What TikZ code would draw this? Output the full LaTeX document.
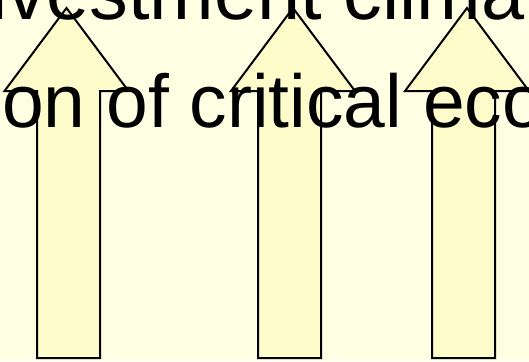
\documentclass[tikz,border=0pt]{standalone}
\usepackage{fontspec}
\setmainfont{Liberation Sans}
\definecolor{bg}{RGB}{255,255,228}
\definecolor{arrowfill}{RGB}{255,252,204}
\begin{document}
\begin{tikzpicture}[x=1bp,y=-1bp,
  arrowfillstyle/.style={fill=arrowfill},
  arrowline/.style={draw=black,line width=2bp,line join=miter},
  bigtext/.style={anchor=base west,inner sep=0pt,text=black}]
\clip (0,0) rectangle (529,361);
\fill[bg] (0,0) rectangle (529,361);
\foreach \L/\R/\c in {37/100/66.5, 258/321/293, 432/495/467} {
  \fill[arrowfillstyle] (\L,358) -- (\L,91) -- (\c-62,91) -- (\c,8) -- (\c+62,91) -- (\R,91) -- (\R,358) -- cycle;
}
\node[bigtext,font=\fontsize{77.5bp}{90bp}\selectfont] (line1) at (-35.6,19.5) {nvestment climat};
\node[bigtext,font=\fontsize{75bp}{90bp}\selectfont] (line2) at (2,127.5) {on of critical eco};
\foreach \L/\R/\c in {37/100/66.5, 258/321/293, 432/495/467} {
  \draw[arrowline] (\L,358) -- (\L,91) -- (\c-62,91) -- (\c,8) -- (\c+62,91) -- (\R,91) -- (\R,358) -- cycle;
}
\end{tikzpicture}
\end{document}
